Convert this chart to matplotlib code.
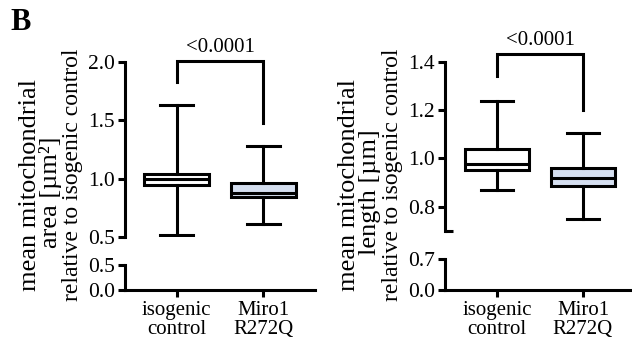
import matplotlib
matplotlib.use("Agg")
import matplotlib.pyplot as plt

plt.rcParams['font.family'] = ['Liberation Serif', 'DejaVu Serif']

groups = ['isogenic\ncontrol', 'Miro1\nR272Q']
box_colors = ['white', '#d5dff0']

# area panel (relative values)
area_lo = [0.52, 0.61]
area_q1 = [0.95, 0.84]
area_med = [1.00, 0.875]
area_q3 = [1.04, 0.965]
area_hi = [1.63, 1.28]

# length panel (relative values)
len_lo = [0.87, 0.75]
len_q1 = [0.95, 0.885]
len_med = [0.977, 0.92]
len_q3 = [1.04, 0.96]
len_hi = [1.24, 1.105]

p_text = '<0.0001'
LW = 2.2


def stats(lo, q1, med, q3, hi):
    out = []
    for i in range(len(lo)):
        out.append({'whislo': lo[i], 'q1': q1[i], 'med': med[i],
                    'q3': q3[i], 'whishi': hi[i], 'fliers': []})
    return out


def panel(fig, x0, w, top_box, bot_box, ylim_top, ylim_bot, yticks_top,
          yticks_bot, xlim, st, bracket, lines, lab_x):
    axt = fig.add_axes([x0, top_box[0], w, top_box[1]])
    axb = fig.add_axes([x0, bot_box[0], w, bot_box[1]])

    bp = axt.bxp(st, positions=[0, 1], widths=0.75, capwidths=0.38,
                 showfliers=False, patch_artist=True,
                 boxprops=dict(linewidth=LW, edgecolor='black'),
                 medianprops=dict(linewidth=LW, color='black'),
                 whiskerprops=dict(linewidth=LW, color='black'),
                 capprops=dict(linewidth=LW, color='black'))
    for patch, c in zip(bp['boxes'], box_colors):
        patch.set_facecolor(c)

    for ax in (axt, axb):
        ax.set_xlim(*xlim)
        ax.spines['top'].set_visible(False)
        ax.spines['right'].set_visible(False)
        ax.spines['left'].set_linewidth(LW)
        ax.spines['bottom'].set_linewidth(LW)
        ax.tick_params(width=LW, length=5, labelsize=15.5, pad=2)
        ax.tick_params(which='minor', direction='in', width=LW, length=6)
        ax.patch.set_alpha(0)

    axt.spines['bottom'].set_visible(False)
    axt.set_ylim(*ylim_top)
    axt.set_yticks(yticks_top)
    axt.set_yticks([ylim_top[0]], minor=True)
    axt.set_xticks([])
    axt.yaxis.set_major_formatter(matplotlib.ticker.FormatStrFormatter('%.1f'))

    axb.set_ylim(*ylim_bot)
    axb.set_yticks(yticks_bot)
    axb.set_yticks([ylim_bot[1]], minor=True)
    axb.yaxis.set_major_formatter(matplotlib.ticker.FormatStrFormatter('%.1f'))
    axb.set_xticks([0, 1])
    axb.set_xticklabels(groups, fontsize=15, linespacing=1.0)
    axb.tick_params(axis='x', pad=3)

    y_left, y_top, y_right = bracket
    axt.plot([0, 0, 1, 1], [y_left, y_top, y_top, y_right], color='black',
             lw=LW, clip_on=False, solid_joinstyle='miter')
    axt.annotate(p_text, (0.5, y_top), xytext=(0, 3), textcoords='offset points',
                 ha='center', va='bottom', fontsize=15, annotation_clip=False)

    # y label: two larger lines plus a smaller third line
    fig.text(lab_x, 0.462, lines[0], rotation=90, ha='center', va='center',
             fontsize=19)
    fig.text(lab_x + 0.033, 0.44, lines[1], rotation=90, ha='center',
             va='center', fontsize=19)
    fig.text(lab_x + 0.068, 0.49, lines[2], rotation=90, ha='center',
             va='center', fontsize=17)


fig = plt.figure(figsize=(6.32, 3.43), dpi=100)

panel(fig, 0.1978, 0.3006, (0.309, 0.510), (0.1545, 0.0729),
      (0.5, 2.0), (0.0, 0.5), [0.5, 1.0, 1.5, 2.0], [0.0, 0.5],
      (-0.6, 1.6), stats(area_lo, area_q1, area_med, area_q3, area_hi),
      (1.83, 2.01, 1.48),
      ['mean mitochondrial', 'area [\u00b5m\u00b2]', 'relative to isogenic control'],
      0.047)

panel(fig, 0.704, 0.296, (0.3274, 0.4918), (0.1545, 0.0895),
      (0.7, 1.4), (0.0, 0.7), [0.8, 1.0, 1.2, 1.4], [0.0, 0.7],
      (-0.605, 1.57), stats(len_lo, len_q1, len_med, len_q3, len_hi),
      (1.34, 1.433, 1.2),
      ['mean mitochondrial', 'length [\u00b5m]', 'relative to isogenic control'],
      0.553)

fig.text(0.032, 0.935, 'B', fontsize=22, fontweight='bold', ha='center', va='center')

fig.savefig('out.png', dpi=100)
